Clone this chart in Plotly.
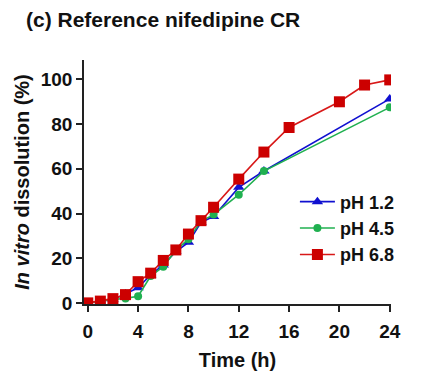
import plotly.graph_objects as go

# Data
t_low = [0, 1, 2, 3, 4, 5, 6, 7, 8, 9, 10, 12, 14, 24]
ph12 = [0, 0.8, 1.5, 4.0, 6.8, 12.5, 17.0, 23.0, 27.1, 36.0, 38.7, 51.7, 59.0, 91.3]
ph45 = [0, 0.8, 1.5, 2.0, 3.0, 12.0, 16.2, 23.5, 28.5, 36.5, 39.5, 48.4, 59.0, 87.5]
t_68 = [0, 1, 2, 3, 4, 5, 6, 7, 8, 9, 10, 12, 14, 16, 20, 22, 24]
ph68 = [0, 0.8, 1.9, 3.7, 9.5, 13.3, 19.0, 23.7, 30.8, 36.8, 42.8, 55.4, 67.5, 78.5, 90.0, 97.5, 99.8]

x_ticks = [0, 4, 8, 12, 16, 20, 24]
y_ticks = [0, 20, 40, 60, 80, 100]

FONT = "Liberation Sans, Arial, sans-serif"

fig = go.Figure()
fig.add_trace(go.Scatter(x=t_low, y=ph12, name="pH 1.2", mode="lines+markers",
                         line=dict(color="#1010D0", width=1.6),
                         marker=dict(symbol="triangle-up", size=10, color="#1010D0")))
fig.add_trace(go.Scatter(x=t_low, y=ph45, name="pH 4.5", mode="lines+markers",
                         line=dict(color="#20B050", width=1.6),
                         marker=dict(symbol="circle", size=8, color="#20B050")))
fig.add_trace(go.Scatter(x=t_68, y=ph68, name="pH 6.8", mode="lines+markers",
                         line=dict(color="#D81818", width=1.6),
                         marker=dict(symbol="square", size=11, color="#CC0000")))

fig.update_layout(
    width=416, height=367,
    margin=dict(l=76, r=33, t=52, b=71, autoexpand=False),
    plot_bgcolor="white", paper_bgcolor="white",
    font=dict(family=FONT, size=18, color="#111111"),
    showlegend=True,
    legend=dict(x=0.687, y=0.494, xanchor="left", yanchor="top",
                font=dict(family=FONT, size=18, color="#111111", weight="bold"),
                bgcolor="rgba(0,0,0,0)", itemwidth=35),
    title=dict(text="<b>(c) Reference nifedipine CR</b>", x=18 / 416, xanchor="left",
               y=1 - 12 / 367, yanchor="middle", font=dict(family=FONT, size=21, color="#111111")),
    xaxis=dict(range=[-0.3, 24.1], tickvals=x_ticks, ticks="outside", ticklen=6,
               tickwidth=1.5, showline=True, linewidth=1.5, linecolor="#222222",
               tickcolor="#222222", showgrid=False, zeroline=False, automargin=False,
               ticklabelstandoff=3,
               tickfont=dict(family=FONT, size=19, weight="bold"),
               title=dict(text="<b>Time (h)</b>", font=dict(family=FONT, size=20), standoff=12)),
    yaxis=dict(range=[-0.5, 108.7], tickvals=y_ticks, ticks="outside", ticklen=6,
               tickwidth=1.5, showline=True, linewidth=1.5, linecolor="#222222",
               tickcolor="#222222", showgrid=False, zeroline=False, automargin=False,
               tickfont=dict(family=FONT, size=19, weight="bold"),
               title=dict(text="<b><i>In vitro</i> dissolution (%)</b>",
                          font=dict(family=FONT, size=20), standoff=6)),
)

fig.write_html("out.html")
